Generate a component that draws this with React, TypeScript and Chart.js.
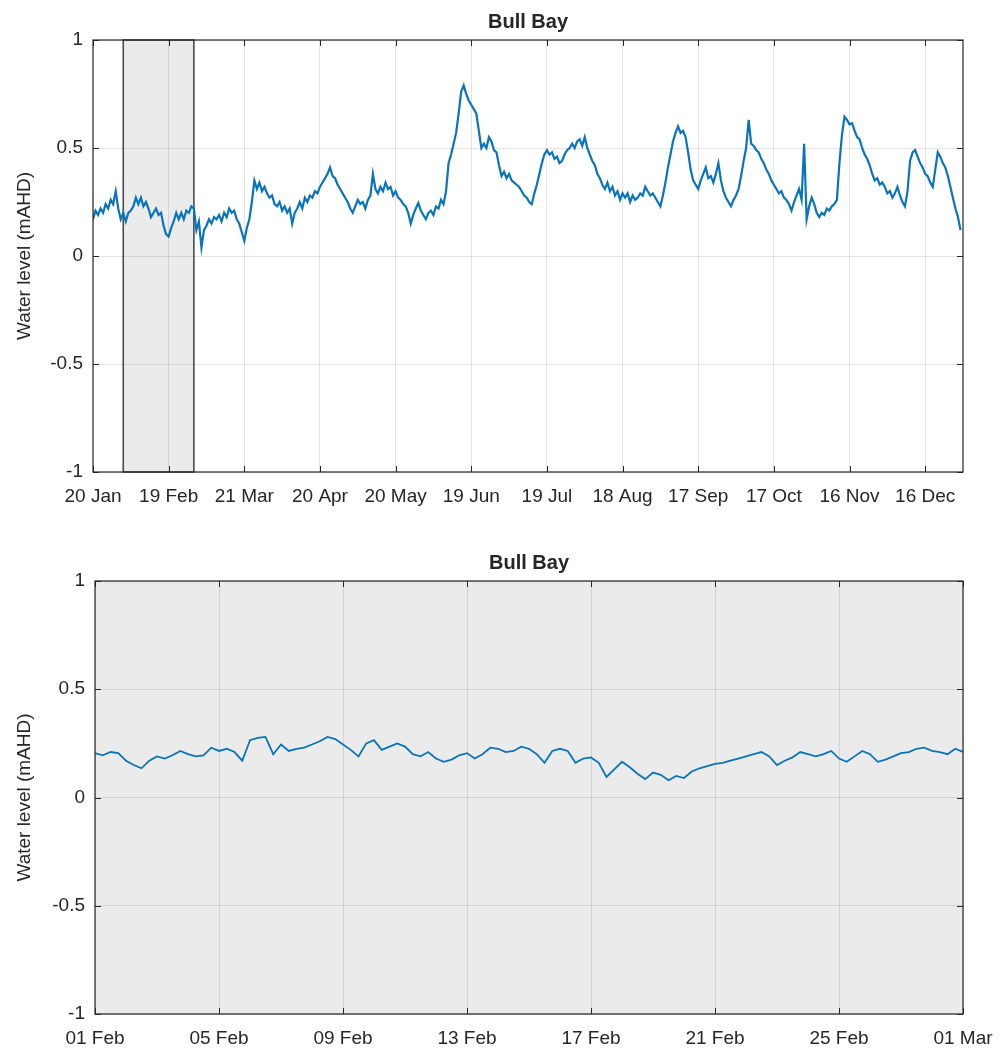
import React, { useEffect, useRef } from 'react';
import { Chart, registerables } from 'chart.js';

Chart.register(...registerables);

const TITLE = 'Bull Bay';
const Y_LABEL = 'Water level (mAHD)';
const Y_TICKS = [-1, -0.5, 0, 0.5, 1];

// Top panel: days since 20 Jan (one value per day)
const TOP_TICK_DAYS = [0, 30, 60, 90, 120, 150, 180, 210, 240, 270, 300, 330];
const TOP_TICK_LABELS = ['20 Jan', '19 Feb', '21 Mar', '20 Apr', '20 May', '19 Jun', '19 Jul', '18 Aug', '17 Sep', '17 Oct', '16 Nov', '16 Dec'];
const TOP_X_MAX = 345;
const ZOOM_WINDOW = [12, 40]; // 01 Feb – 01 Mar
const TOP_LEVELS = [
  0.17, 0.21, 0.19, 0.22, 0.20, 0.24, 0.22, 0.26, 0.24, 0.30,
  0.22, 0.17, 0.20, 0.16, 0.20, 0.21, 0.23, 0.27, 0.24, 0.27,
  0.23, 0.25, 0.22, 0.18, 0.20, 0.22, 0.19, 0.20, 0.14, 0.10,
  0.09, 0.13, 0.16, 0.20, 0.17, 0.20, 0.17, 0.21, 0.20, 0.23,
  0.22, 0.12, 0.16, 0.04, 0.12, 0.14, 0.17, 0.15, 0.18, 0.17,
  0.19, 0.16, 0.20, 0.18, 0.22, 0.20, 0.21, 0.17, 0.15, 0.11,
  0.07, 0.13, 0.17, 0.25, 0.35, 0.31, 0.34, 0.30, 0.32, 0.29,
  0.27, 0.28, 0.24, 0.23, 0.25, 0.21, 0.23, 0.20, 0.22, 0.15,
  0.20, 0.22, 0.25, 0.22, 0.27, 0.25, 0.28, 0.27, 0.30, 0.29,
  0.32, 0.34, 0.36, 0.38, 0.41, 0.37, 0.36, 0.33, 0.31, 0.29,
  0.27, 0.25, 0.22, 0.20, 0.23, 0.26, 0.24, 0.25, 0.22, 0.26,
  0.28, 0.38, 0.31, 0.29, 0.32, 0.30, 0.34, 0.31, 0.32, 0.28,
  0.30, 0.27, 0.26, 0.24, 0.23, 0.20, 0.15, 0.19, 0.22, 0.245,
  0.21, 0.19, 0.17, 0.20, 0.21, 0.19, 0.23, 0.22, 0.26, 0.24,
  0.30, 0.43, 0.47, 0.52, 0.57, 0.66, 0.76, 0.79, 0.75, 0.72,
  0.70, 0.68, 0.66, 0.58, 0.50, 0.52, 0.50, 0.55, 0.53, 0.49,
  0.48, 0.42, 0.37, 0.39, 0.36, 0.38, 0.35, 0.34, 0.33, 0.32,
  0.30, 0.28, 0.27, 0.25, 0.24, 0.29, 0.33, 0.38, 0.43, 0.47,
  0.49, 0.47, 0.48, 0.45, 0.46, 0.43, 0.44, 0.47, 0.49, 0.50,
  0.52, 0.50, 0.53, 0.54, 0.51, 0.55, 0.50, 0.47, 0.44, 0.42,
  0.38, 0.36, 0.33, 0.31, 0.34, 0.30, 0.32, 0.28, 0.30, 0.26,
  0.29, 0.27, 0.29, 0.25, 0.28, 0.26, 0.27, 0.29, 0.28, 0.32,
  0.30, 0.28, 0.29, 0.27, 0.25, 0.23, 0.28, 0.34, 0.41, 0.47,
  0.53, 0.57, 0.60, 0.57, 0.58, 0.55, 0.48, 0.40, 0.35, 0.33,
  0.31, 0.35, 0.38, 0.41, 0.36, 0.37, 0.34, 0.38, 0.43, 0.35,
  0.30, 0.27, 0.25, 0.23, 0.26, 0.28, 0.31, 0.37, 0.44, 0.50,
  0.63, 0.52, 0.51, 0.49, 0.48, 0.45, 0.43, 0.40, 0.38, 0.35,
  0.33, 0.31, 0.29, 0.30, 0.27, 0.26, 0.24, 0.21, 0.25, 0.28,
  0.31, 0.26, 0.52, 0.17, 0.23, 0.27, 0.24, 0.20, 0.18, 0.20,
  0.19, 0.22, 0.21, 0.23, 0.24, 0.26, 0.43, 0.56, 0.645, 0.63,
  0.61, 0.615, 0.58, 0.55, 0.54, 0.50, 0.47, 0.45, 0.42, 0.38,
  0.35, 0.36, 0.33, 0.34, 0.32, 0.29, 0.30, 0.27, 0.29, 0.32,
  0.28, 0.25, 0.23, 0.30, 0.44, 0.48, 0.49, 0.46, 0.43, 0.41,
  0.38, 0.37, 0.34, 0.32, 0.40, 0.48, 0.46, 0.43, 0.41, 0.37,
  0.32, 0.27, 0.22, 0.18, 0.12,
];

// Bottom panel: days since 01 Feb, one value every 6 hours
const BOTTOM_TICK_DAYS = [0, 4, 8, 12, 16, 20, 24, 28];
const BOTTOM_TICK_LABELS = ['01 Feb', '05 Feb', '09 Feb', '13 Feb', '17 Feb', '21 Feb', '25 Feb', '01 Mar'];
const BOTTOM_X_MAX = 28;
const BOTTOM_STEP_DAYS = 0.25;
const BOTTOM_LEVELS = [
  0.205, 0.195, 0.21, 0.205, 0.17, 0.15, 0.135, 0.17, 0.19, 0.18,
  0.195, 0.215, 0.20, 0.19, 0.195, 0.23, 0.215, 0.225, 0.21, 0.17,
  0.265, 0.275, 0.28, 0.20, 0.245, 0.215, 0.225, 0.23, 0.245, 0.26,
  0.28, 0.27, 0.245, 0.22, 0.19, 0.25, 0.265, 0.22, 0.235, 0.25,
  0.235, 0.20, 0.19, 0.21, 0.18, 0.165, 0.175, 0.195, 0.205, 0.18,
  0.20, 0.23, 0.225, 0.21, 0.215, 0.235, 0.225, 0.20, 0.16, 0.215,
  0.225, 0.215, 0.16, 0.18, 0.185, 0.16, 0.095, 0.13, 0.165, 0.14,
  0.11, 0.085, 0.115, 0.105, 0.08, 0.10, 0.09, 0.12, 0.135, 0.145,
  0.155, 0.16, 0.17, 0.18, 0.19, 0.20, 0.21, 0.19, 0.15, 0.17,
  0.185, 0.21, 0.20, 0.19, 0.20, 0.215, 0.18, 0.165, 0.19, 0.215,
  0.20, 0.165, 0.175, 0.19, 0.205, 0.21, 0.225, 0.23, 0.215, 0.21,
  0.20, 0.225, 0.21,
];

const FONT = '"Liberation Sans", Arial, Helvetica, sans-serif';
const TEXT = '#262626';
const LINE = '#0a74bb';
const GRID = 'rgba(38,38,38,0.12)';

const framePlugin = {
  id: 'frame',
  beforeDraw(chart: any, _a: any, opts: any) {
    if (!opts.background) return;
    const { ctx, chartArea: a } = chart;
    ctx.save();
    ctx.fillStyle = opts.background;
    ctx.fillRect(a.left, a.top, a.right - a.left, a.bottom - a.top);
    ctx.restore();
  },
  beforeDatasetsDraw(chart: any, _a: any, opts: any) {
    if (!opts.shade) return;
    const { ctx, chartArea: a, scales } = chart;
    const x0 = scales.x.getPixelForValue(opts.shade[0]);
    const x1 = scales.x.getPixelForValue(opts.shade[1]);
    ctx.save();
    ctx.fillStyle = 'rgba(0,0,0,0.08)';
    ctx.fillRect(x0, a.top, x1 - x0, a.bottom - a.top);
    ctx.strokeStyle = '#4a4a4a';
    ctx.lineWidth = 1.6;
    ctx.strokeRect(x0, a.top, x1 - x0, a.bottom - a.top);
    ctx.restore();
  },
  afterDatasetsDraw(chart: any, _a: any, opts: any) {
    const { ctx, chartArea: a, scales } = chart;
    ctx.save();
    ctx.strokeStyle = TEXT;
    ctx.lineWidth = 1;
    const tl = 6;
    ctx.beginPath();
    for (const v of opts.xTicks) {
      const px = Math.round(scales.x.getPixelForValue(v)) + 0.5;
      ctx.moveTo(px, a.bottom); ctx.lineTo(px, a.bottom - tl);
      ctx.moveTo(px, a.top); ctx.lineTo(px, a.top + tl);
    }
    for (const v of Y_TICKS) {
      const py = Math.round(scales.y.getPixelForValue(v)) + 0.5;
      ctx.moveTo(a.left, py); ctx.lineTo(a.left + tl, py);
      ctx.moveTo(a.right, py); ctx.lineTo(a.right - tl, py);
    }
    ctx.stroke();
    ctx.lineWidth = 1.2;
    ctx.strokeRect(a.left, a.top, a.right - a.left, a.bottom - a.top);
    ctx.fillStyle = TEXT;
    ctx.font = `bold 20px ${FONT}`;
    ctx.textAlign = 'center';
    ctx.textBaseline = 'middle';
    ctx.fillText(opts.title, (a.left + a.right) / 2, a.top - 18);
    ctx.restore();
  },
};

function makeConfig(points: { x: number; y: number }[], xMax: number, tickDays: number[], tickLabels: string[], yWidth: number, pad: any, extra: any) {
  return {
    type: 'line',
    data: {
      datasets: [{
        data: points,
        borderColor: LINE,
        borderWidth: extra.lineWidth,
        pointRadius: 0,
        tension: 0,
        fill: false,
      }],
    },
    plugins: [framePlugin],
    options: {
      animation: false,
      responsive: false,
      events: [],
      layout: { padding: pad },
      plugins: {
        legend: { display: false },
        tooltip: { enabled: false },
        title: { display: false },
        frame: { title: TITLE, xTicks: tickDays, shade: extra.shade, background: extra.background },
      },
      scales: {
        x: {
          type: 'linear',
          min: 0,
          max: xMax,
          grid: { color: GRID, drawTicks: false, lineWidth: 1 },
          border: { display: false },
          afterBuildTicks: (s: any) => { s.ticks = tickDays.map((v) => ({ value: v })); },
          afterFit: (s: any) => {
            s.height = 50;
            s.paddingLeft = 0;
            s.paddingRight = 0;
            s.paddingTop = 0;
            s.paddingBottom = 0;
          },
          ticks: {
            autoSkip: false,
            maxRotation: 0,
            padding: 13,
            color: TEXT,
            font: { family: FONT, size: 19 },
            callback: (v: number) => {
              const i = tickDays.indexOf(v);
              return i >= 0 ? tickLabels[i] : '';
            },
          },
        },
        y: {
          type: 'linear',
          min: -1,
          max: 1,
          grid: { color: GRID, drawTicks: false, lineWidth: 1 },
          border: { display: false },
          afterBuildTicks: (s: any) => { s.ticks = Y_TICKS.map((v) => ({ value: v })); },
          afterFit: (s: any) => {
            s.width = yWidth;
            s.paddingTop = 0;
            s.paddingBottom = 0;
            s.paddingLeft = 0;
            s.paddingRight = 0;
          },
          ticks: {
            padding: 10,
            color: TEXT,
            font: { family: FONT, size: 19 },
            callback: (v: number) => String(v),
          },
          title: {
            display: true,
            text: Y_LABEL,
            color: TEXT,
            font: { family: FONT, size: 19 },
            padding: { top: 13, bottom: 0 },
          },
        },
      },
    },
  } as any;
}

function ChartCanvas({ build }: { build: () => any }) {
  const ref = useRef<HTMLCanvasElement | null>(null);
  useEffect(() => {
    if (!ref.current) return;
    const chart = new Chart(ref.current, build());
    return () => chart.destroy();
  }, []);
  return <canvas ref={ref} width={1001} height={525} style={{ display: 'block', width: 1001, height: 525 }} />;
}

export default function App() {
  const topPoints = TOP_LEVELS.map((y, i) => ({ x: i, y }));
  const bottomPoints = BOTTOM_LEVELS.map((y, i) => ({ x: i * BOTTOM_STEP_DAYS, y }));
  return (
    <div style={{ position: 'absolute', left: 0, top: 0, width: 1001, height: 1050, background: '#fff' }}>
      <ChartCanvas
        build={() => makeConfig(topPoints, TOP_X_MAX, TOP_TICK_DAYS, TOP_TICK_LABELS, 93,
          { top: 40, right: 38, bottom: 3, left: 0 },
          { lineWidth: 2.2, shade: ZOOM_WINDOW })}
      />
      <ChartCanvas
        build={() => makeConfig(bottomPoints, BOTTOM_X_MAX, BOTTOM_TICK_DAYS, BOTTOM_TICK_LABELS, 95,
          { top: 56, right: 38, bottom: -14, left: 0 },
          { lineWidth: 1.8, background: '#ebebeb' })}
      />
    </div>
  );
}
